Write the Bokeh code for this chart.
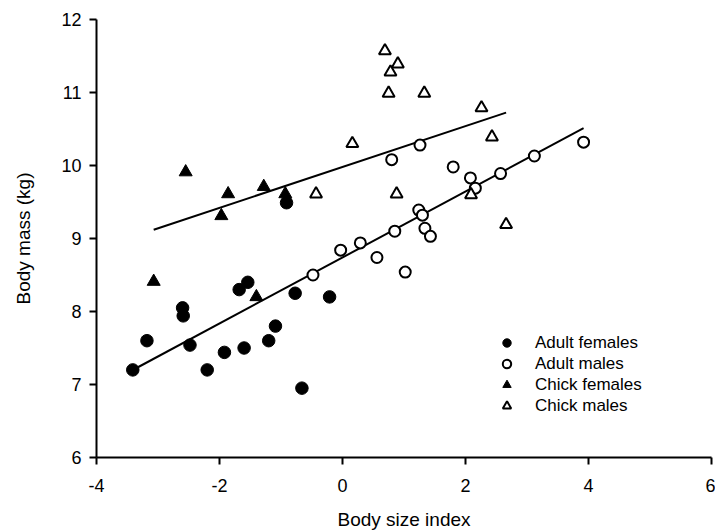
from bokeh.plotting import figure
from bokeh.models import Legend, LegendItem, FixedTicker, Range1d
from bokeh.embed import file_html
from bokeh.resources import INLINE
import numpy as np

# ---- data ----
af_x = [-3.41, -3.18, -2.60, -2.59, -2.48, -2.20, -1.92, -1.68, -1.60, -1.54,
        -1.20, -1.09, -0.91, -0.77, -0.66, -0.21]
af_y = [7.20, 7.60, 8.05, 7.94, 7.54, 7.20, 7.44, 8.30, 7.50, 8.40,
        7.60, 7.80, 9.49, 8.25, 6.95, 8.20]

am_x = [-0.48, -0.03, 0.29, 0.56, 0.85, 1.02, 1.24, 1.30, 1.34, 1.43,
        0.80, 1.26, 1.80, 2.08, 2.16, 2.57, 3.12, 3.92]
am_y = [8.50, 8.84, 8.94, 8.74, 9.10, 8.54, 9.39, 9.32, 9.14, 9.03,
        10.08, 10.28, 9.98, 9.83, 9.69, 9.89, 10.13, 10.32]

cf_x = [-3.07, -2.55, -1.97, -1.86, -1.28, -0.93, -1.40]
cf_y = [8.41, 9.91, 9.31, 9.61, 9.71, 9.61, 8.20]

cm_x = [0.69, 0.90, 0.78, 0.75, 1.33, 2.26, 2.43, 0.16, -0.43, 0.88, 2.09, 2.66]
cm_y = [11.57, 11.39, 11.28, 10.99, 10.99, 10.79, 10.39, 10.30, 9.61, 9.61, 9.60, 9.19]

# regression lines (slope, intercept)
adult_slope, adult_intercept = 0.452, 8.74
chick_slope, chick_intercept = 0.280, 9.98

x_ticks = [-4, -2, 0, 2, 4, 6]
y_ticks = [6, 7, 8, 9, 10, 11, 12]
series_labels = ["Adult females", "Adult males", "Chick females", "Chick males"]

FONT = "Liberation Sans"

p = figure(width=715, height=529, frame_width=615, frame_height=438,
           min_border_left=96, min_border_right=4, min_border_top=19, min_border_bottom=72,
           output_backend="svg", toolbar_location=None,
           x_range=Range1d(-4, 6), y_range=Range1d(6, 12))
p.outline_line_color = None
p.grid.visible = False
p.background_fill_color = "white"
p.border_fill_color = "white"

# lines
adult_all_x = af_x + am_x
ax_line = np.array([min(adult_all_x), max(adult_all_x)])
p.line(ax_line, adult_intercept + adult_slope * ax_line, line_color="black", line_width=2)
chick_all_x = cf_x + cm_x
cx_line = np.array([min(chick_all_x), max(chick_all_x)])
p.line(cx_line, chick_intercept + chick_slope * cx_line, line_color="black", line_width=2)

r_af = p.scatter(af_x, af_y, marker="circle", size=12.5, fill_color="black", line_color="black")
r_am = p.scatter(am_x, am_y, marker="circle", size=11, fill_color="white", line_color="black", line_width=2)
r_cf = p.scatter(cf_x, cf_y, marker="triangle", size=13, fill_color="black", line_color="black")
r_cm = p.scatter(cm_x, cm_y, marker="triangle", size=12, fill_color="white", line_color="black", line_width=2)

for ax in (p.xaxis[0], p.yaxis[0]):
    ax.axis_line_width = 2
    ax.axis_line_color = "black"
    ax.major_tick_line_width = 2
    ax.major_tick_line_color = "black"
    ax.major_tick_out = 7
    ax.major_tick_in = 0
    ax.minor_tick_line_color = None
    ax.major_label_text_font = FONT
    ax.major_label_text_font_size = "18px"
    ax.major_label_text_color = "black"
    ax.axis_label_text_font = FONT
    ax.axis_label_text_font_size = "19px"
    ax.axis_label_text_font_style = "normal"
    ax.axis_label_text_color = "black"

p.xaxis[0].ticker = FixedTicker(ticks=x_ticks)
p.yaxis[0].ticker = FixedTicker(ticks=y_ticks)
p.xaxis[0].major_label_overrides = {t: str(t) for t in x_ticks}
p.yaxis[0].major_label_overrides = {t: str(t) for t in y_ticks}
p.xaxis[0].axis_label = "Body size index"
p.yaxis[0].axis_label = "Body mass (kg)"
p.xaxis[0].major_label_standoff = 14
p.xaxis[0].axis_label_standoff = 14
p.yaxis[0].major_label_standoff = 8
p.yaxis[0].axis_label_standoff = 24

legend = Legend(items=[LegendItem(label=series_labels[0], renderers=[r_af]),
                       LegendItem(label=series_labels[1], renderers=[r_am]),
                       LegendItem(label=series_labels[2], renderers=[r_cf]),
                       LegendItem(label=series_labels[3], renderers=[r_cm])],
                location=(398, 41), glyph_width=25, glyph_height=21, spacing=0,
                label_height=21,
                padding=0, margin=0, label_standoff=16,
                label_text_font=FONT, label_text_font_size="17px",
                label_text_color="black",
                background_fill_alpha=0, border_line_alpha=0)
p.add_layout(legend, "center")

open("out.html", "w").write(file_html(p, INLINE))
